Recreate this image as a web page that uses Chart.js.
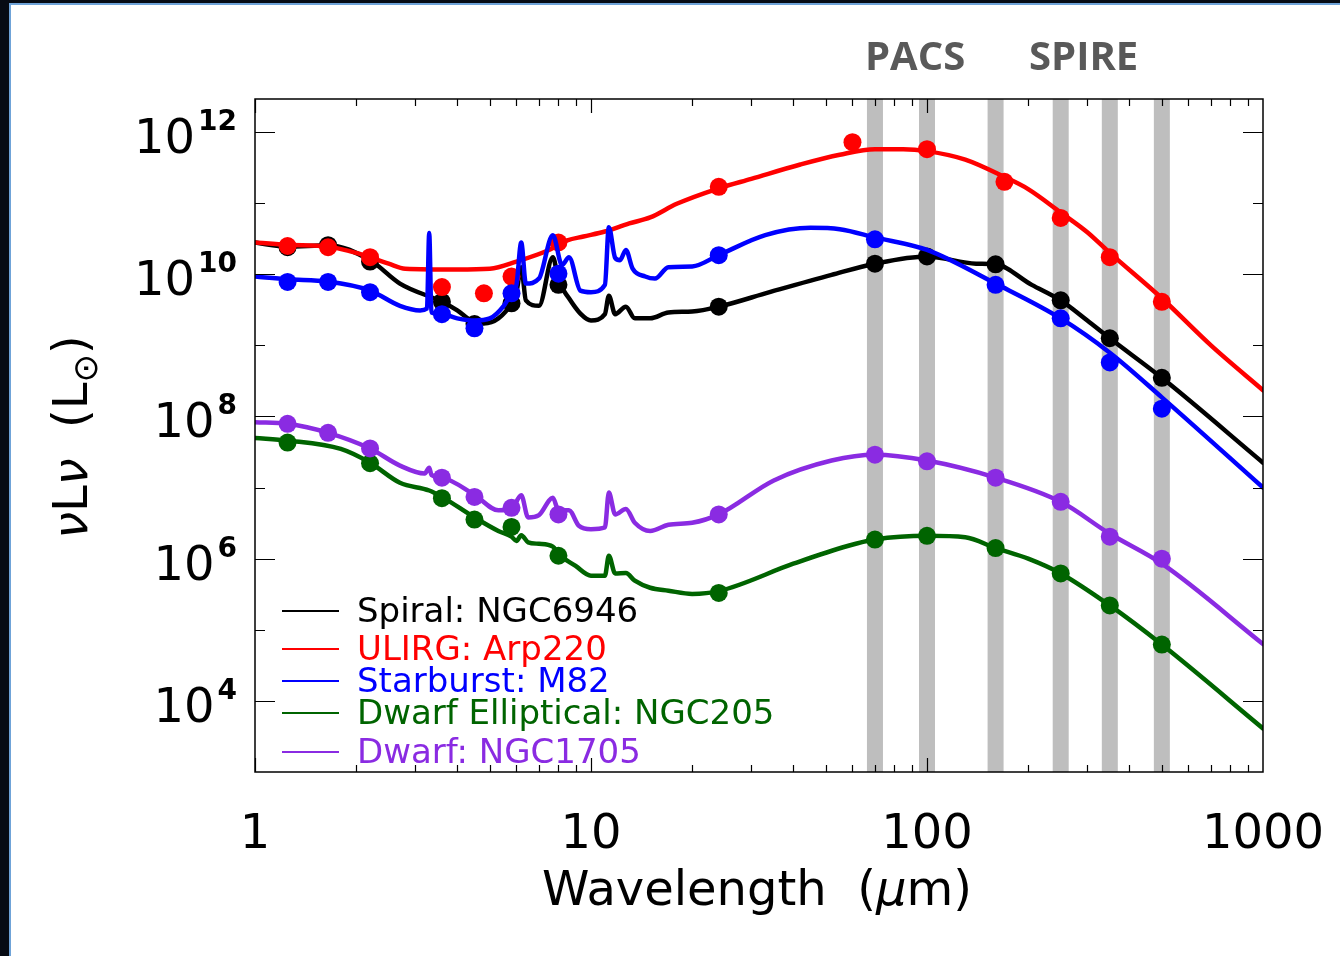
<!DOCTYPE html>
<html>
<head>
<meta charset="utf-8">
<title>SED templates</title>
<script src="https://cdn.jsdelivr.net/npm/chart.js@4.4.1/dist/chart.umd.min.js"></script>
<style>
  html, body { margin: 0; padding: 0; }
  body { width: 1340px; height: 956px; background: #070b14; position: relative; overflow: hidden; }
  #panel { position: absolute; left: 9px; top: 3px; right: 0; bottom: 0; background: #fff;
           border-left: 2px solid #6fa3d8; border-top: 2px solid #6fa3d8; }
  #sed { position: absolute; left: 0; top: 0; }
</style>
</head>
<body>
<div id="panel"></div>
<canvas id="sed" width="1340" height="956"></canvas>
<script>
// axis ticks / labels
var xTickValues = [1, 10, 100, 1000];
var xTickLabels = ["1", "10", "100", "1000"];
var yTickExponents = [4, 6, 8, 10, 12];

// Herschel bands (um)
var pacsBands = [70, 100, 160];
var spireBands = [250, 350, 500];

var seriesNames = ["Spiral: NGC6946", "ULIRG: Arp220", "Starburst: M82", "Dwarf Elliptical: NGC205", "Dwarf: NGC1705"];
var seriesColors = ["#000000", "#ff0000", "#0000ff", "#006400", "#8a2be2"];

// model spectra (wavelength um, nuLnu in Lsun)
var spiralWave = [1, 1.25, 1.65, 2.2, 2.7, 3.6, 4.0, 4.4, 4.8, 5.3, 5.8, 6.0, 6.2, 6.4, 7.0, 7.7, 8.0, 8.6, 9.3, 10, 11.0, 11.3, 11.8, 12.7, 13.5, 15, 17, 20, 24, 34, 52, 70, 100, 140, 160, 205, 250, 300, 350, 500, 1000];
var spiralLum = [2.8e10, 2.45e10, 2.57e10, 1.58e10, 7.4e9, 4.1e9, 3.1e9, 2.24e9, 2.04e9, 2.4e9, 3.9e9, 5.6e9, 1.26e10, 4.3e9, 3.6e9, 1.74e10, 8.3e9, 4.6e9, 2.8e9, 2.24e9, 2.75e9, 5.0e9, 2.75e9, 3.5e9, 2.4e9, 2.4e9, 2.9e9, 3.0e9, 3.5e9, 5.6e9, 9.8e9, 1.41e10, 1.78e10, 1.41e10, 1.38e10, 7.1e9, 4.3e9, 2.24e9, 1.26e9, 3.5e8, 2.24e7];

var ulirgWave = [1, 1.25, 1.65, 2.0, 2.5, 2.8, 4.0, 5.0, 6.0, 7.5, 8.5, 9.5, 11, 13, 15, 18, 24, 30, 42, 55, 70, 85, 100, 130, 170, 200, 250, 300, 350, 500, 700, 1000];
var ulirgLum = [2.8e10, 2.6e10, 2.45e10, 2.0e10, 1.41e10, 1.2e10, 1.17e10, 1.2e10, 1.51e10, 2.2e10, 3.0e10, 3.4e10, 4.0e10, 5.2e10, 6.3e10, 9.8e10, 1.62e11, 2.2e11, 3.5e11, 4.8e11, 5.75e11, 5.75e11, 5.4e11, 4.1e11, 2.34e11, 1.58e11, 7.4e10, 3.9e10, 2.0e10, 4.6e9, 1.0e9, 2.34e8];

var starburstWave = [1, 1.25, 1.65, 2.2, 2.7, 3.1, 3.25, 3.3, 3.35, 3.6, 4.0, 4.5, 5.0, 5.5, 5.8, 6.0, 6.2, 6.4, 7.0, 7.7, 8.2, 8.6, 9.3, 10, 11.0, 11.3, 11.8, 12.2, 12.7, 13.3, 14.5, 15.5, 17, 20, 24, 33, 45, 55, 70, 100, 160, 250, 350, 500, 1000];
var starburstLum = [9.3e9, 8.5e9, 7.9e9, 5.9e9, 3.6e9, 3.1e9, 3.3e9, 3.8e10, 2.9e9, 2.75e9, 2.4e9, 2.24e9, 2.4e9, 3.6e9, 5.4e9, 7.1e9, 2.8e10, 7.4e9, 8.7e9, 3.55e10, 1.35e10, 1.74e10, 5.9e9, 5.6e9, 7.1e9, 4.6e10, 1.7e10, 1.58e10, 2.2e10, 1.2e10, 9.3e9, 8.7e9, 1.26e10, 1.29e10, 1.86e10, 3.55e10, 4.5e10, 4.3e10, 3.3e10, 2.2e10, 7.4e9, 2.4e9, 7.9e8, 1.86e8, 1.0e7];

var ellipticalWave = [1, 1.25, 1.8, 2.2, 2.7, 3.3, 3.6, 4.5, 5.3, 5.8, 6.0, 6.2, 6.5, 7.0, 7.7, 8.0, 9.0, 10, 11.0, 11.3, 11.8, 12.7, 13.5, 15, 17, 20, 24, 40, 58, 70, 100, 130, 160, 200, 250, 350, 500, 1000];
var ellipticalLum = [5.0e7, 4.6e7, 3.5e7, 2.24e7, 1.17e7, 9.1e6, 7.4e6, 3.8e6, 2.45e6, 2.04e6, 1.78e6, 2.14e6, 1.7e6, 1.62e6, 1.48e6, 1.17e6, 7.9e5, 5.75e5, 5.75e5, 1.1e6, 6.2e5, 6.3e5, 4.9e5, 3.9e5, 3.55e5, 3.2e5, 3.5e5, 8.5e5, 1.51e6, 1.86e6, 2.1e6, 2.0e6, 1.41e6, 1.0e6, 6.2e5, 2.2e5, 6.2e4, 4.1e3];

var dwarfWave = [1, 1.25, 1.65, 2.2, 2.7, 3.2, 3.3, 3.35, 3.6, 4.5, 5.3, 5.8, 6.2, 6.5, 7.0, 7.7, 8.0, 8.6, 9.2, 10, 11.0, 11.3, 11.8, 12.7, 13.5, 15, 17, 20, 24, 35, 52, 70, 100, 160, 250, 350, 500, 1000];
var dwarfLum = [8.3e7, 7.9e7, 5.9e7, 3.55e7, 2.04e7, 1.58e7, 1.9e7, 1.51e7, 1.38e7, 7.9e6, 4.8e6, 5.0e6, 7.8e6, 3.8e6, 4.1e6, 7.2e6, 4.8e6, 4.8e6, 2.9e6, 2.6e6, 2.75e6, 8.5e6, 4.2e6, 5.0e6, 3.2e6, 2.45e6, 3.0e6, 3.2e6, 4.2e6, 1.26e7, 2.4e7, 2.9e7, 2.4e7, 1.38e7, 6.3e6, 2.24e6, 8.5e5, 6.3e4];

// photometry
var spiralPhotWave = [1.25, 1.65, 2.2, 3.6, 4.5, 5.8, 8, 24, 70, 100, 160, 250, 350, 500];
var spiralPhotLum = [2.4e10, 2.57e10, 1.51e10, 4.1e9, 2.0e9, 3.9e9, 7.1e9, 3.5e9, 1.41e10, 1.78e10, 1.38e10, 4.3e9, 1.26e9, 3.5e8];

var ulirgPhotWave = [1.25, 1.65, 2.2, 3.6, 4.8, 5.8, 8, 24, 60, 100, 170, 250, 350, 500];
var ulirgPhotLum = [2.5e10, 2.4e10, 1.74e10, 6.6e9, 5.4e9, 9.3e9, 2.8e10, 1.7e11, 7.2e11, 5.75e11, 2.0e11, 6.2e10, 1.74e10, 4.1e9];

var starburstPhotWave = [1.25, 1.65, 2.2, 3.6, 4.5, 5.8, 8, 24, 70, 160, 250, 350, 500];
var starburstPhotLum = [7.8e9, 7.8e9, 5.6e9, 2.75e9, 1.74e9, 5.4e9, 1.02e10, 1.86e10, 3.1e10, 7.1e9, 2.4e9, 5.75e8, 1.29e8];

var ellipticalPhotWave = [1.25, 2.2, 3.6, 4.5, 5.8, 8, 24, 70, 100, 160, 250, 350, 500];
var ellipticalPhotLum = [4.3e7, 2.2e7, 7.1e6, 3.55e6, 2.8e6, 1.1e6, 3.3e5, 1.86e6, 2.1e6, 1.41e6, 6.2e5, 2.2e5, 6.2e4];

var dwarfPhotWave = [1.25, 1.65, 2.2, 3.6, 4.5, 5.8, 8, 24, 70, 100, 160, 250, 350, 500];
var dwarfPhotLum = [7.9e7, 5.9e7, 3.55e7, 1.38e7, 7.4e6, 5.2e6, 4.2e6, 4.2e6, 2.9e7, 2.34e7, 1.38e7, 6.3e6, 2.04e6, 1.0e6];

(function () {
  "use strict";

  var FONT = "'DejaVu Sans', sans-serif";

  function pairs(waves, lums) {
    return waves.map(function (w, i) {
      return { x: w, y: lums[i] };
    });
  }

  function lineSet(waves, lums, color, order) {
    return {
      data: pairs(waves, lums),
      showLine: true,
      borderColor: color,
      borderWidth: 4.5,
      borderJoinStyle: "round",
      borderCapStyle: "round",
      pointRadius: 0,
      cubicInterpolationMode: "monotone",
      order: order
    };
  }

  function pointSet(waves, lums, color, order) {
    return {
      data: pairs(waves, lums),
      showLine: false,
      backgroundColor: color,
      borderWidth: 0,
      pointRadius: 9,
      pointHoverRadius: 9,
      order: order
    };
  }

  // draws text pieces side by side, each {t, font, dy}
  function drawPieces(ctx, pieces, x, y) {
    var cx = x;
    pieces.forEach(function (p) {
      ctx.font = p.font;
      ctx.fillText(p.t, cx, y + (p.dy || 0));
      cx += ctx.measureText(p.t).width;
    });
  }

  function piecesWidth(ctx, pieces) {
    var w = 0;
    pieces.forEach(function (p) {
      ctx.font = p.font;
      w += ctx.measureText(p.t).width;
    });
    return w;
  }

  var sedFrame = {
    id: "sedFrame",
    beforeDatasetsDraw: function (chart) {
      var ctx = chart.ctx;
      var area = chart.chartArea;
      var xs = chart.scales.x;
      ctx.save();
      ctx.fillStyle = "#bebebe";
      pacsBands.concat(spireBands).forEach(function (w) {
        var px = xs.getPixelForValue(w);
        ctx.fillRect(px - 8, area.top, 16, area.bottom - area.top);
      });
      ctx.restore();
    },
    afterDraw: function (chart) {
      var ctx = chart.ctx;
      var area = chart.chartArea;
      var xs = chart.scales.x;
      var ys = chart.scales.y;
      var k, m, px, py;

      ctx.save();

      // frame
      ctx.strokeStyle = "#000";
      ctx.lineWidth = 1.5;
      ctx.strokeRect(area.left, area.top, area.right - area.left, area.bottom - area.top);

      // ticks
      ctx.lineWidth = 1.2;
      ctx.beginPath();
      for (k = 0; k < 3; k++) {
        for (m = 1; m <= 9; m++) {
          px = Math.round(xs.getPixelForValue(m * Math.pow(10, k))) + 0.5;
          var len = m === 1 ? 14 : 7;
          ctx.moveTo(px, area.bottom);
          ctx.lineTo(px, area.bottom - len);
          ctx.moveTo(px, area.top);
          ctx.lineTo(px, area.top + len);
        }
      }
      for (k = 4; k <= 12; k++) {
        py = Math.round(ys.getPixelForValue(Math.pow(10, k))) + 0.5;
        var ylen = k % 2 === 0 ? 20 : 10;
        ctx.moveTo(area.left, py);
        ctx.lineTo(area.left + ylen, py);
        ctx.moveTo(area.right, py);
        ctx.lineTo(area.right - ylen, py);
      }
      ctx.stroke();

      // x tick labels
      ctx.fillStyle = "#000";
      ctx.textAlign = "center";
      ctx.textBaseline = "alphabetic";
      ctx.font = "48px " + FONT;
      xTickValues.forEach(function (v, i) {
        ctx.fillText(xTickLabels[i], xs.getPixelForValue(v), 848);
      });

      // y tick labels 10^n
      ctx.textAlign = "right";
      yTickExponents.forEach(function (e) {
        var ty = ys.getPixelForValue(Math.pow(10, e));
        var right = area.left - 18;
        ctx.font = "bold 28px " + FONT;
        var ew = ctx.measureText(String(e)).width;
        ctx.fillText(String(e), right, ty - 2);
        ctx.font = "48px " + FONT;
        ctx.fillText("10", right - ew - 3, ty + 21);
      });

      // x title
      ctx.textAlign = "left";
      var xt = [
        { t: "Wavelength  (", font: "48px " + FONT },
        { t: "\u03bc", font: "italic 48px " + FONT },
        { t: "m)", font: "48px " + FONT }
      ];
      drawPieces(ctx, xt, 757 - piecesWidth(ctx, xt) / 2, 905);

      // y title, rotated
      var yt = [
        { t: "\u03bd", font: "italic 48px " + FONT },
        { t: "L", font: "48px " + FONT },
        { t: "\u03bd", font: "italic 48px " + FONT },
        { t: "  (L", font: "48px " + FONT },
        { t: "\u2299", font: "34px " + FONT, dy: 10 },
        { t: ")", font: "48px " + FONT }
      ];
      ctx.save();
      ctx.translate(87, 437);
      ctx.rotate(-Math.PI / 2);
      drawPieces(ctx, yt, -piecesWidth(ctx, yt) / 2, 0);
      ctx.restore();

      // legend
      var rows = [622, 660, 692, 724, 763];
      ctx.font = "34px " + FONT;
      seriesNames.forEach(function (name, i) {
        ctx.strokeStyle = seriesColors[i];
        ctx.lineWidth = 2;
        ctx.beginPath();
        ctx.moveTo(282, rows[i] - 11);
        ctx.lineTo(339, rows[i] - 11);
        ctx.stroke();
        ctx.fillStyle = seriesColors[i];
        ctx.fillText(name, 357, rows[i]);
      });

      // instrument labels
      ctx.fillStyle = "#595959";
      ctx.font = "bold 40px 'Open Sans', sans-serif";
      ctx.fillText("PACS", 865, 70);
      ctx.fillText("SPIRE", 1029, 70);

      ctx.restore();
    }
  };

  var datasets = [
    lineSet(spiralWave, spiralLum, seriesColors[0], 20),
    pointSet(spiralPhotWave, spiralPhotLum, seriesColors[0], 19),
    lineSet(ulirgWave, ulirgLum, seriesColors[1], 18),
    pointSet(ulirgPhotWave, ulirgPhotLum, seriesColors[1], 17),
    lineSet(starburstWave, starburstLum, seriesColors[2], 16),
    pointSet(starburstPhotWave, starburstPhotLum, seriesColors[2], 15),
    lineSet(ellipticalWave, ellipticalLum, seriesColors[3], 14),
    pointSet(ellipticalPhotWave, ellipticalPhotLum, seriesColors[3], 13),
    lineSet(dwarfWave, dwarfLum, seriesColors[4], 12),
    pointSet(dwarfPhotWave, dwarfPhotLum, seriesColors[4], 11)
  ];

  new Chart(document.getElementById("sed").getContext("2d"), {
    type: "scatter",
    data: { datasets: datasets },
    options: {
      responsive: false,
      animation: false,
      devicePixelRatio: 1,
      layout: { padding: { left: 255, top: 99, right: 77, bottom: 184 } },
      scales: {
        x: { type: "logarithmic", min: 1, max: 1000, display: false },
        y: { type: "logarithmic", min: 1e3, max: 2.92e12, display: false }
      },
      plugins: {
        legend: { display: false },
        tooltip: { enabled: false }
      }
    },
    plugins: [sedFrame]
  });
})();
</script>
</body>
</html>
